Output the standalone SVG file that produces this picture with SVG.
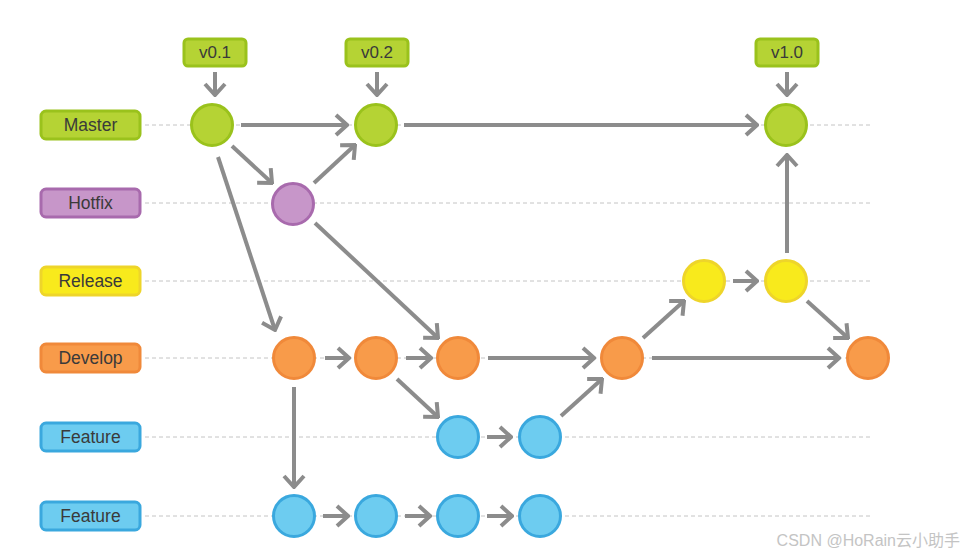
<svg xmlns="http://www.w3.org/2000/svg" width="975" height="557" viewBox="0 0 975 557">
<style>
.lbl{font-family:"Liberation Sans",Arial,sans-serif;font-size:17.5px;fill:#3a3a3a;text-anchor:middle}
.tag{font-family:"Liberation Sans",Arial,sans-serif;font-size:17px;fill:#3a3a3a;text-anchor:middle}
.dash{stroke:#c4c4c4;stroke-width:1;stroke-dasharray:4 3}
.c{stroke:#8c8c8c;stroke-width:4;fill:none;marker-end:url(#ah)}
.g{fill:#b5d334;stroke:#9ac21c;stroke-width:3}
.p{fill:#c796c9;stroke:#a86aad;stroke-width:3}
.y{fill:#f8ea1c;stroke:#eed52a;stroke-width:3}
.o{fill:#f89b4a;stroke:#f0893a;stroke-width:3}
.b{fill:#6dccf0;stroke:#3aa8de;stroke-width:3}
</style>
<defs>
<marker id="ah" markerUnits="userSpaceOnUse" viewBox="-14 -12 16 24" markerWidth="16" markerHeight="24" refX="0" refY="0" orient="auto">
<path d="M-11,-10 L0,0 L-11,10" fill="none" stroke="#8c8c8c" stroke-width="4" stroke-linejoin="miter"/>
</marker>
</defs>
<rect width="975" height="557" fill="#ffffff"/>
<g id="lanes">
<line class="dash" x1="145" y1="125" x2="870" y2="125"/>
<line class="dash" x1="145" y1="203" x2="870" y2="203"/>
<line class="dash" x1="145" y1="281" x2="870" y2="281"/>
<line class="dash" x1="145" y1="358" x2="870" y2="358"/>
<line class="dash" x1="145" y1="437" x2="870" y2="437"/>
<line class="dash" x1="145" y1="516" x2="870" y2="516"/>
</g>
<g id="label-master"><rect class="g" x="41" y="111" width="99" height="28" rx="5"/><text class="lbl" x="90.5" y="131">Master</text></g>
<g id="label-hotfix"><rect class="p" x="41" y="189" width="99" height="28" rx="5"/><text class="lbl" x="90.5" y="209">Hotfix</text></g>
<g id="label-release"><rect class="y" x="41" y="267" width="99" height="28" rx="5"/><text class="lbl" x="90.5" y="287">Release</text></g>
<g id="label-develop"><rect class="o" x="41" y="344" width="99" height="28" rx="5"/><text class="lbl" x="90.5" y="364">Develop</text></g>
<g id="label-feature1"><rect class="b" x="41" y="423" width="99" height="28" rx="5"/><text class="lbl" x="90.5" y="443">Feature</text></g>
<g id="label-feature2"><rect class="b" x="41" y="502" width="99" height="28" rx="5"/><text class="lbl" x="90.5" y="522">Feature</text></g>
<g id="tag-v01"><rect class="g" x="184" y="39" width="62" height="27" rx="4"/><text class="tag" x="215" y="58">v0.1</text></g>
<g id="tag-v02"><rect class="g" x="346" y="39" width="62" height="27" rx="4"/><text class="tag" x="377" y="58">v0.2</text></g>
<g id="tag-v10"><rect class="g" x="756" y="39" width="62" height="27" rx="4"/><text class="tag" x="787" y="58">v1.0</text></g>
<g id="connectors">
<line class="c" x1="215" y1="72" x2="215" y2="95"/>
<line class="c" x1="377" y1="72" x2="377" y2="95"/>
<line class="c" x1="787" y1="72" x2="787" y2="95"/>
<line class="c" x1="241" y1="125" x2="347" y2="125"/>
<line class="c" x1="404" y1="125" x2="757" y2="125"/>
<line class="c" x1="232" y1="146" x2="272" y2="183"/>
<line class="c" x1="314" y1="183" x2="355" y2="145"/>
<line class="c" x1="218" y1="157" x2="275" y2="330"/>
<line class="c" x1="315" y1="223" x2="438" y2="338"/>
<line class="c" x1="325" y1="358" x2="349" y2="358"/>
<line class="c" x1="406" y1="358" x2="431" y2="358"/>
<line class="c" x1="488" y1="358" x2="594" y2="358"/>
<line class="c" x1="397" y1="379" x2="438" y2="417"/>
<line class="c" x1="487" y1="437" x2="511" y2="437"/>
<line class="c" x1="561" y1="416" x2="602" y2="379"/>
<line class="c" x1="643" y1="338" x2="684" y2="301"/>
<line class="c" x1="733" y1="281" x2="757" y2="281"/>
<line class="c" x1="787" y1="253" x2="787" y2="155"/>
<line class="c" x1="807" y1="301" x2="848" y2="338"/>
<line class="c" x1="652" y1="358" x2="839" y2="358"/>
<line class="c" x1="294" y1="387" x2="294" y2="487"/>
<line class="c" x1="323" y1="516" x2="348" y2="516"/>
<line class="c" x1="405" y1="516" x2="430" y2="516"/>
<line class="c" x1="487" y1="516" x2="512" y2="516"/>
</g>
<g id="m1"><circle class="g" cx="212" cy="125" r="20.5"/></g>
<g id="m2"><circle class="g" cx="376" cy="125" r="20.5"/></g>
<g id="m3"><circle class="g" cx="786" cy="125" r="20.5"/></g>
<g id="h1"><circle class="p" cx="293" cy="204" r="20.5"/></g>
<g id="r1"><circle class="y" cx="704" cy="281" r="20.5"/></g>
<g id="r2"><circle class="y" cx="786" cy="281" r="20.5"/></g>
<g id="d1"><circle class="o" cx="294" cy="358" r="20.5"/></g>
<g id="d2"><circle class="o" cx="376" cy="358" r="20.5"/></g>
<g id="d3"><circle class="o" cx="458" cy="358" r="20.5"/></g>
<g id="d4"><circle class="o" cx="622" cy="358" r="20.5"/></g>
<g id="d5"><circle class="o" cx="868" cy="358" r="20.5"/></g>
<g id="f1a"><circle class="b" cx="458" cy="437" r="20.5"/></g>
<g id="f1b"><circle class="b" cx="540" cy="437" r="20.5"/></g>
<g id="f2a"><circle class="b" cx="294" cy="516" r="20.5"/></g>
<g id="f2b"><circle class="b" cx="376" cy="516" r="20.5"/></g>
<g id="f2c"><circle class="b" cx="458" cy="516" r="20.5"/></g>
<g id="f2d"><circle class="b" cx="540" cy="516" r="20.5"/></g>
<text x="960" y="546" font-family="'Liberation Sans','Noto Sans CJK SC',sans-serif" font-size="16" fill="#c4c4c4" text-anchor="end">CSDN @HoRain云小助手</text>
</svg>
